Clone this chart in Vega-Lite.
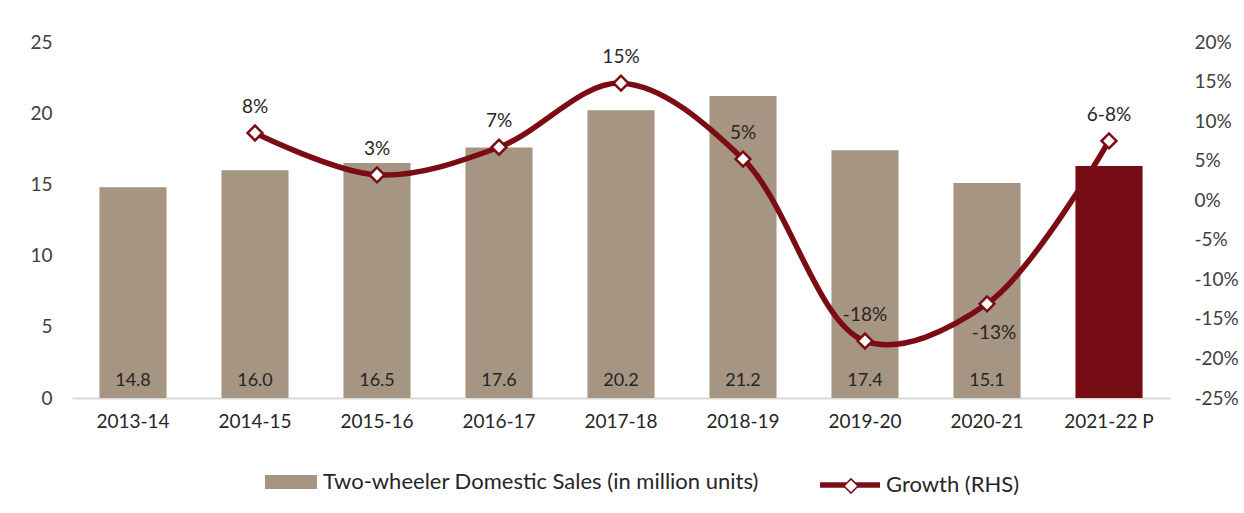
{
  "$schema": "https://vega.github.io/schema/vega-lite/v6.json",
  "width": 1098,
  "height": 356,
  "autosize": "none",
  "padding": {"left": 72, "top": 42, "right": 74, "bottom": 115},
  "background": "white",
  "config": {
    "view": {"stroke": null},
    "font": "Lato",
    "axis": {"labelFont": "Lato", "labelColor": "#404040", "grid": false, "ticks": false, "domain": false, "labelFontSize": 19, "labelOverlap": false},
    "legend": {"labelFont": "Lato", "labelFontSize": 22, "labelColor": "#262626", "labelLimit": 800, "padding": 0}
  },
  "data": {
    "values": [
      {"year": "2013-14", "sales": 14.8, "label": "14.8", "growth": null, "glabel": "", "series": "Two-wheeler Domestic Sales (in million units)", "series2": "Growth (RHS)", "marker": "Growth (RHS)"},
      {"year": "2014-15", "sales": 16.0, "label": "16.0", "growth": 8.5, "glabel": "8%", "series": "Two-wheeler Domestic Sales (in million units)", "series2": "Growth (RHS)", "marker": "Growth (RHS)"},
      {"year": "2015-16", "sales": 16.5, "label": "16.5", "growth": 3.2, "glabel": "3%", "series": "Two-wheeler Domestic Sales (in million units)", "series2": "Growth (RHS)", "marker": "Growth (RHS)"},
      {"year": "2016-17", "sales": 17.6, "label": "17.6", "growth": 6.7, "glabel": "7%", "series": "Two-wheeler Domestic Sales (in million units)", "series2": "Growth (RHS)", "marker": "Growth (RHS)"},
      {"year": "2017-18", "sales": 20.2, "label": "20.2", "growth": 14.8, "glabel": "15%", "series": "Two-wheeler Domestic Sales (in million units)", "series2": "Growth (RHS)", "marker": "Growth (RHS)"},
      {"year": "2018-19", "sales": 21.2, "label": "21.2", "growth": 5.2, "glabel": "5%", "series": "Two-wheeler Domestic Sales (in million units)", "series2": "Growth (RHS)", "marker": "Growth (RHS)"},
      {"year": "2019-20", "sales": 17.4, "label": "17.4", "growth": -17.8, "glabel": "-18%", "series": "Two-wheeler Domestic Sales (in million units)", "series2": "Growth (RHS)", "marker": "Growth (RHS)"},
      {"year": "2020-21", "sales": 15.1, "label": "15.1", "growth": -13.1, "glabel": "-13%", "series": "Two-wheeler Domestic Sales (in million units)", "series2": "Growth (RHS)", "marker": "Growth (RHS)"},
      {"year": "2021-22 P", "sales": 16.3, "label": "", "growth": 7.5, "glabel": "6-8%", "series": "Two-wheeler Domestic Sales (in million units)", "series2": "Growth (RHS)", "marker": "Growth (RHS)"}
    ]
  },
  "encoding": {
    "x": {
      "field": "year", "type": "ordinal", "sort": null,
      "scale": {"paddingInner": 0.45, "paddingOuter": 0.225},
      "axis": {"title": null, "labelAngle": 0, "domain": true, "domainColor": "#d9d9d9", "domainWidth": 2, "labelPadding": 14, "labelFontSize": 19, "labelColor": "#262626"}
    }
  },
  "layer": [
    {
      "layer": [
        {
          "mark": {"type": "bar"},
          "encoding": {
            "y": {"field": "sales", "type": "quantitative", "scale": {"domain": [0, 25], "nice": false}, "axis": {"title": null, "values": [0, 5, 10, 15, 20, 25], "labelPadding": 20, "orient": "left", "labelOverlap": false}},
            "fill": {
              "field": "series", "type": "nominal",
              "scale": {"range": ["#A69582"]},
              "legend": {"title": null, "orient": "none", "legendX": 193, "legendY": 414, "symbolType": "M-1,-0.27H1V0.27H-1Z", "symbolSize": 2704, "symbolStrokeWidth": 0, "labelOffset": 6},
              "condition": {"test": "datum.year === '2021-22 P'", "value": "#750C14"}
            }
          }
        },
        {
          "mark": {"type": "text", "fontSize": 18, "color": "#262626", "baseline": "middle", "dy": -17},
          "encoding": {
            "y": {"datum": 0, "type": "quantitative", "scale": {"domain": [0, 25], "nice": false}},
            "text": {"field": "label"}
          }
        }
      ]
    },
    {
      "transform": [{"filter": "datum.growth != null"}],
      "encoding": {
        "y": {"field": "growth", "type": "quantitative", "scale": {"domain": [-25, 20], "nice": false}, "axis": {"title": null, "orient": "right", "values": [-25, -20, -15, -10, -5, 0, 5, 10, 15, 20], "labelExpr": "datum.value + '%'", "labelPadding": 24, "labelOverlap": false}}
      },
      "layer": [
        {
          "mark": {"type": "line", "interpolate": "catmull-rom", "strokeWidth": 5.5},
          "encoding": {
            "stroke": {"field": "series2", "type": "nominal", "scale": {"range": ["#7B0C14"]}, "legend": {"title": null, "orient": "none", "legendX": 745, "legendY": 410, "symbolType": "stroke", "symbolStrokeWidth": 5.5, "symbolSize": 3600, "labelOffset": 3}}
          }
        },
        {
          "mark": {"type": "point", "filled": true, "fill": "white", "stroke": "#7B0C14", "strokeWidth": 2.5, "size": 220, "opacity": 1},
          "encoding": {
            "shape": {"field": "marker", "type": "nominal", "scale": {"range": ["diamond"]}, "legend": {"title": null, "orient": "none", "legendX": 768, "legendY": 433, "symbolSize": 200, "labelExpr": "''", "labelOffset": 0, "encode": {"symbols": {"update": {"fill": {"value": "white"}, "stroke": {"value": "#7B0C14"}, "strokeWidth": {"value": 2}, "opacity": {"value": 1}}}}}}
          }
        },
        {
          "transform": [{"filter": "datum.year !== '2020-21'"}],
          "mark": {"type": "text", "fontSize": 19, "color": "#262626", "baseline": "middle", "dy": -26},
          "encoding": {
            "text": {"field": "glabel"}
          }
        },
        {
          "transform": [{"filter": "datum.year === '2020-21'"}],
          "mark": {"type": "text", "fontSize": 19, "color": "#262626", "baseline": "middle", "dy": 29, "dx": 7},
          "encoding": {
            "text": {"field": "glabel"}
          }
        }
      ]
    }
  ],
  "resolve": {"scale": {"y": "independent"}}
}
